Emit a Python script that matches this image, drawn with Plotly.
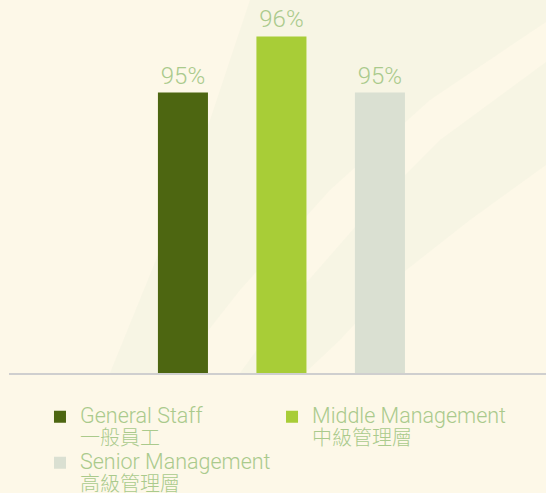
import plotly.graph_objects as go

categories_en = ["General Staff", "Middle Management", "Senior Management"]
categories_zh = ["一般員工", "中級管理層", "高級管理層"]
positions = [0, 1, 2]
values = [95, 96, 95]
labels = ["95%", "96%", "95%"]
colors = ["#4D6611", "#A8CD37", "#DAE0D2"]
legend_slots = ["legend", "legend2", "legend"]

FONT = "Roboto, 'Noto Sans CJK TC', sans-serif"
TXT = "#AACA8C"
W, H = 546, 493
ML, MB = 9, 120
PW, PH = W - ML, H - MB


def px2paper(pts):
    return [((x - ML) / PW, (PH - y) / PH) for x, y in pts]


def path(pts):
    p = px2paper(pts)
    return "M " + " L ".join(f"{x:.4f} {y:.4f}" for x, y in p) + " Z"


fig = go.Figure()
for en, zh, pos, val, lab, col, lg in zip(categories_en, categories_zh, positions, values,
                                           labels, colors, legend_slots):
    name = (f"<span style='font-size:21.5px'>{en}</span><br>"
            f"<span style='font-size:20px'>{zh}</span>")
    fig.add_trace(go.Bar(
        x=[pos], y=[val], name=name, legend=lg,
        marker=dict(color=col, line=dict(width=0)),
        width=0.508, text=[lab], textposition="outside", cliponaxis=False,
        textfont=dict(color=TXT, size=24, family=FONT, weight=300),
        hoverinfo="skip",
    ))

# subtle background light rays (pixel polygons)
ray_polys = [
    [(250, 0), (546, 0), (546, 22), (430, 100), (330, 190), (240, 290), (175, 373), (110, 373), (160, 250), (210, 120)],
    [(546, 62), (546, 165), (470, 220), (400, 275), (340, 340), (305, 373), (240, 373), (300, 290), (370, 210), (440, 140)],
]
shapes = [dict(type="path", path=path(p), xref="paper", yref="paper",
               fillcolor="rgba(236,240,222,0.32)", line=dict(width=0), layer="below")
          for p in ray_polys]

legend_common = dict(
    orientation="v", xanchor="left", yanchor="top", valign="top",
    font=dict(family=FONT, size=16.5, color=TXT, weight=300),
    tracegroupgap=0, itemclick=False, itemdoubleclick=False, bgcolor="rgba(0,0,0,0)",
)

fig.update_layout(
    width=W, height=H,
    margin=dict(l=ML, r=0, t=0, b=MB, autoexpand=False),
    paper_bgcolor="#FDF8E8", plot_bgcolor="rgba(0,0,0,0)",
    barmode="overlay",
    showlegend=True,
    legend=dict(x=0.0577, y=-0.0714, **legend_common),
    legend2=dict(x=0.4898, y=-0.0714, **legend_common),
    xaxis=dict(range=[-1.766, 3.686], showgrid=False, zeroline=False, showticklabels=False,
               showline=True, linecolor="#CFCFCF", linewidth=2, fixedrange=True),
    yaxis=dict(range=[90, 96.65], showgrid=False, zeroline=False, showticklabels=False,
               showline=False, fixedrange=True),
    shapes=shapes,
)

fig.write_html("out.html", config={"displayModeBar": False},
               post_script="document.body.style.margin='0';document.body.style.overflow='hidden';")
